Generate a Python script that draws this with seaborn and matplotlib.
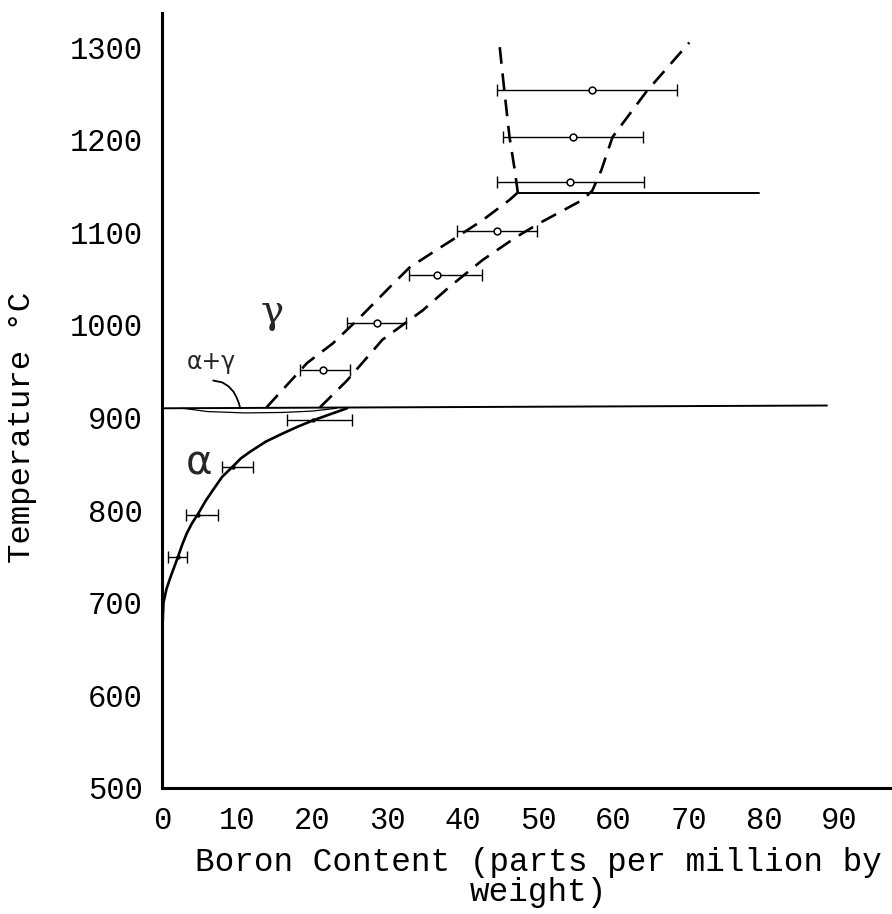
import numpy as np
import pandas as pd
import matplotlib
matplotlib.use("Agg")
import matplotlib.pyplot as plt
import seaborn as sns

# ---------------- data ----------------
# alpha solvus (solid curve)
alpha_x = [0, 0.2, 0.6, 1.1, 1.6, 2.1, 2.7, 3.3, 4.0, 4.8, 5.8, 6.8, 8.0, 9.4,
           10.5, 11.7, 13.8, 16.1, 18.0, 20.1, 22.5, 24.6]
alpha_T = [660, 700, 715, 727, 738, 749, 763, 775, 786, 796, 810, 822, 836, 847,
           856, 863, 874, 883, 890, 897, 904, 910]

# alpha-region data points with error bars
a_pts_x = [2.1, 4.8, 9.4, 20.1]
a_pts_T = [749, 795, 847, 897]
a_lo = [0.8, 3.2, 8.0, 16.6]
a_hi = [3.3, 7.4, 12.1, 25.2]

# gamma-region data points with error bars
g_pts_x = [21.4, 28.6, 36.5, 44.5, 54.2, 54.6, 57.1]
g_pts_T = [951, 1002, 1054, 1101, 1154, 1203, 1254]
g_lo = [18.3, 24.6, 32.9, 39.2, 44.6, 45.3, 44.5]
g_hi = [25.0, 32.5, 42.5, 49.8, 64.1, 63.9, 68.5]

# dashed boundaries
left_dash_x = [13.9, 19.3, 22.7, 26.3, 30.3, 32.9, 36.5, 39.2, 42.6, 46.2, 47.3]
left_dash_T = [911, 959, 980, 1008, 1041, 1062, 1081, 1095, 1113, 1135, 1143]
right_dash_x = [21.0, 24.6, 29.3, 34.7, 38.2, 42.6, 47.1, 50.2, 55.9, 57.2, 58.4, 59.9, 64.4, 70.1]
right_dash_T = [911, 940, 984, 1016, 1041, 1070, 1095, 1110, 1135, 1145, 1167, 1203, 1252, 1305]
vert_dash_x = [44.9, 45.5, 46.2, 46.9, 47.3]
vert_dash_T = [1300, 1254, 1203, 1167, 1143]

# solid horizontals
eutectoid_x = [0, 88.4]
eutectoid_T = [910, 913]
upper_x = [47.3, 79.4]
upper_T = [1143, 1143]

# alpha+gamma lens (lower edge) and pointer arc
lens_x = [2.8, 6.0, 11.0, 16.0, 20.0, 23.2]
lens_T = [910, 906.5, 905, 905.5, 907, 910]
arc_x = [6.8, 8.0, 8.8, 9.5, 9.9, 10.2, 10.4]
arc_T = [940, 938, 934, 928, 922, 916, 910]

x_ticks = [0, 10, 20, 30, 40, 50, 60, 70, 80, 90]
y_ticks = [500, 600, 700, 800, 900, 1000, 1100, 1200, 1300]

# ---------------- plotting ----------------
sns.set_theme(style="white")
plt.rcParams["font.family"] = ["Liberation Mono", "DejaVu Sans Mono", "DejaVu Sans"]
plt.rcParams["lines.scale_dashes"] = False

fig = plt.figure(figsize=(8.92, 9.14), dpi=100)
ax = fig.add_axes([0.1816, 0.1379, 0.818, 0.848])

def line(xs, ys, **kw):
    df = pd.DataFrame({"x": xs, "y": ys})
    sns.lineplot(data=df, x="x", y="y", sort=False, estimator=None, ax=ax, **kw)

line(alpha_x, alpha_T, color="black", linewidth=1.9)
line(eutectoid_x, eutectoid_T, color="black", linewidth=1.4)
line(upper_x, upper_T, color="black", linewidth=1.4)
line(lens_x, lens_T, color="black", linewidth=0.9)
line(arc_x, arc_T, color="black", linewidth=1.3)

for xs, ys in [(left_dash_x, left_dash_T), (right_dash_x, right_dash_T), (vert_dash_x, vert_dash_T)]:
    ln = ax.plot(xs, ys, color="black", linewidth=1.9)[0]
    ln.set_dashes((12, 7))

for px, pT, lo, hi in [(a_pts_x, a_pts_T, a_lo, a_hi), (g_pts_x, g_pts_T, g_lo, g_hi)]:
    px = np.array(px); lo = np.array(lo); hi = np.array(hi)
    ax.errorbar(px, pT, xerr=[px - lo, hi - px], fmt="none", ecolor="black",
                elinewidth=1.0, capsize=4, capthick=1.0)

sns.scatterplot(x=g_pts_x, y=g_pts_T, ax=ax, marker="o", s=24,
                facecolor="white", edgecolor="black", linewidth=1.1, zorder=5)
sns.scatterplot(x=a_pts_x, y=a_pts_T, ax=ax, marker="o", s=10,
                color="black", linewidth=0, zorder=5)

# labels
ax.text(14.7, 1013, "\u03b3", fontsize=28, ha="center", va="center", family=["DejaVu Serif"])
ax.text(6.5, 960, "\u03b1+\u03b3", fontsize=17, ha="center", va="center", family=["DejaVu Sans"])
ax.text(4.9, 850, "\u03b1", fontsize=29, ha="center", va="center", family=["DejaVu Sans"])

ax.set_xlim(0, 97)
ax.set_ylim(500, 1337)
ax.set_xticks(x_ticks)
ax.set_yticks(y_ticks)
ax.tick_params(axis="both", direction="in", length=10, width=1.3, labelsize=22,
               color="black", labelcolor="black")
ax.tick_params(axis="x", pad=13)
ax.tick_params(axis="y", pad=14)

for s in ["top", "right"]:
    ax.spines[s].set_visible(False)
for s in ["left", "bottom"]:
    ax.spines[s].set_color("black")
    ax.spines[s].set_linewidth(2.2)

ax.set_xlabel("Boron Content (parts per million by\nweight)", fontsize=23.5,
              color="black", linespacing=0.95)
ax.set_ylabel("Temperature \u00b0C", fontsize=23.3, color="black")
ax.xaxis.set_label_coords(0.516, -0.076, transform=ax.transAxes)
ax.xaxis.label.set_va("top")
ax.yaxis.set_label_coords((22 - 162) / 730, (788 - 427) / 775, transform=ax.transAxes)
ax.yaxis.label.set_va("center")
ax.grid(False)

fig.savefig("out.png", dpi=100)
